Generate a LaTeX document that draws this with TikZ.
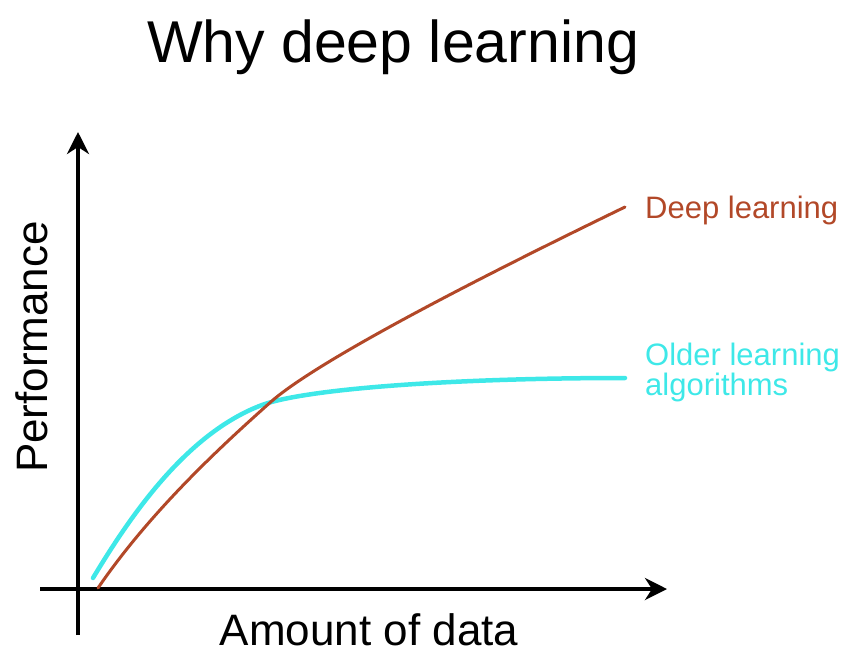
\documentclass[tikz,border=0pt]{standalone}
\usepackage{fontspec}
\setmainfont{Liberation Sans}
\usetikzlibrary{arrows.meta}
\definecolor{deepcol}{RGB}{178,72,40}
\definecolor{oldcol}{RGB}{62,232,232}
\tikzset{
  axis/.style={line width=4pt, -{Stealth[length=22pt,width=22pt,inset=7pt]}},
  lbl/.style={inner sep=0pt, font=\fontsize{31}{28}\selectfont},
  axlbl/.style={inner sep=0pt, font=\fontsize{44}{46}\selectfont},
  deepcurve/.style={deepcol, line width=3pt, line cap=round},
  oldcurve/.style={oldcol, line width=4.5pt, line cap=round}
}
\begin{document}
\begin{tikzpicture}[x=1pt,y=-1pt]
  \useasboundingbox (0,0) rectangle (842,653);

  % title
  \node[inner sep=0pt, anchor=base, font=\fontsize{59}{60}\selectfont] (title) at (393,62) {Why deep learning};

  % axes
  \coordinate (ybot) at (78,635);
  \coordinate (ytop) at (78,132);
  \coordinate (xleft) at (40,589);
  \coordinate (xright) at (667,589);
  \draw[axis] (ybot) -- (ytop);
  \draw[axis] (xleft) -- (xright);

  % axis labels
  \node[axlbl, anchor=base, rotate=90] (ylabel) at (47,347) {Performance};
  \node[axlbl, anchor=base] (xlabel) at (369,645) {Amount of data};

  % older learning algorithms: fast rise, then a plateau
  \coordinate (oldstart) at (93,578);
  \coordinate (oldknee) at (262,405);
  \coordinate (oldend) at (625,378);
  \draw[oldcurve] (oldstart) .. controls (135,508) and (190,432) .. (oldknee)
                             .. controls (305,389) and (450,378) .. (oldend);

  % deep learning: keeps rising with more data
  \coordinate (deepstart) at (98,588);
  \coordinate (deepmid) at (273,400);
  \coordinate (deepend) at (625,207);
  \draw[deepcurve] (deepstart) .. controls (150,512) and (220,447) .. (deepmid)
                               .. controls (330,352) and (520,258) .. (deepend);

  % curve labels
  \node[lbl, anchor=base west, text=deepcol] (deeplbl) at (645,218) {Deep learning};
  \node[lbl, anchor=base west, text=oldcol, align=left] (oldlbl) at (645,395) {Older learning\\algorithms};
\end{tikzpicture}
\end{document}
